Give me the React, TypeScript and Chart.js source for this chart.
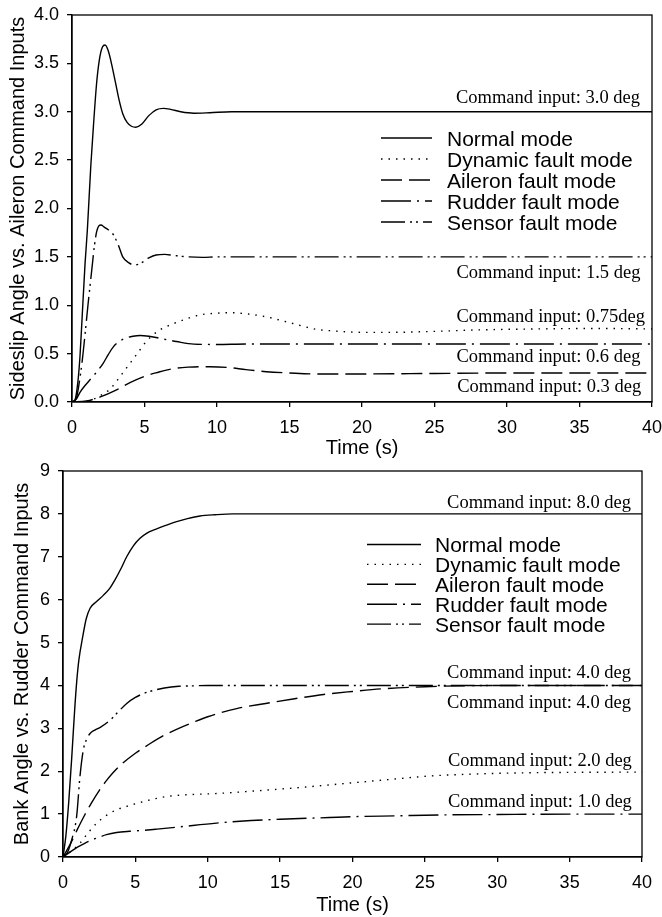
import React, { useEffect, useRef } from 'react';
import { Chart, registerables } from 'chart.js';

Chart.register(...registerables);

const SANS = '"Liberation Sans", Arial, Helvetica, sans-serif';
const SERIF = '"Liberation Serif", "Times New Roman", serif';

const seriesLabels = ['Normal mode', 'Dynamic fault mode', 'Aileron fault mode', 'Rudder fault mode', 'Sensor fault mode'];

// ---------- Top chart: sideslip angle ----------
const sNormT = [0, 0.2, 0.4, 0.55, 0.7, 0.9, 1.06, 1.3, 1.5, 1.7, 1.9, 2.1, 2.28, 2.5, 2.75, 3.0, 3.25, 3.5, 3.8, 4.1, 4.4, 4.8, 5.3, 5.8, 6.3, 6.8, 7.5, 8.4, 9.5, 11, 15, 20, 25, 30, 35, 40];
const sNormV = [0, 0.02, 0.2, 0.47, 0.88, 1.43, 1.78, 2.45, 2.9, 3.3, 3.55, 3.67, 3.69, 3.63, 3.48, 3.3, 3.12, 2.98, 2.89, 2.85, 2.84, 2.87, 2.96, 3.02, 3.035, 3.025, 3.0, 2.985, 2.99, 3.0, 3.0, 3.0, 3.0, 3.0, 3.0, 3.0];

const sDynT = [0, 1, 1.5, 2, 2.6, 3, 3.5, 4.1, 4.5, 5.15, 6, 7, 8, 8.8, 10, 10.9, 12, 13.4, 15, 16.9, 18, 20, 22, 25, 28, 32, 36, 40];
const sDynV = [0, 0.01, 0.03, 0.07, 0.13, 0.2, 0.3, 0.42, 0.5, 0.63, 0.74, 0.81, 0.865, 0.9, 0.918, 0.923, 0.912, 0.88, 0.82, 0.75, 0.735, 0.72, 0.72, 0.73, 0.745, 0.755, 0.76, 0.755];

const sAilT = [0, 1, 2, 3, 4, 5, 6, 6.5, 7, 8, 8.8, 9.5, 10.7, 12, 13.4, 15, 16.9, 20, 25, 30, 35, 40];
const sAilV = [0, 0.01, 0.055, 0.12, 0.2, 0.265, 0.31, 0.33, 0.345, 0.36, 0.365, 0.365, 0.358, 0.335, 0.313, 0.3, 0.29, 0.29, 0.295, 0.3, 0.3, 0.3];

const sRudT = [0, 0.3, 0.55, 0.9, 1.24, 1.7, 2.15, 2.5, 2.85, 3.3, 3.8, 4.2, 4.7, 5.3, 6.0, 6.5, 7.2, 8.4, 10, 12, 15, 20, 30, 40];
const sRudV = [0, 0.03, 0.1, 0.17, 0.23, 0.31, 0.4, 0.49, 0.57, 0.63, 0.665, 0.68, 0.688, 0.68, 0.66, 0.645, 0.625, 0.598, 0.595, 0.6, 0.6, 0.6, 0.6, 0.6];

const sSenT = [0, 0.3, 0.5, 0.7, 0.9, 1.1, 1.36, 1.55, 1.7, 1.85, 2.0, 2.2, 2.5, 2.85, 3.2, 3.5, 3.9, 4.34, 4.8, 5.3, 5.8, 6.4, 7.0, 8, 9, 10, 15, 20, 25, 30, 35, 40];
const sSenV = [0, 0.04, 0.2, 0.42, 0.7, 1.0, 1.36, 1.62, 1.76, 1.82, 1.83, 1.81, 1.78, 1.73, 1.62, 1.5, 1.44, 1.416, 1.44, 1.49, 1.52, 1.526, 1.515, 1.5, 1.495, 1.5, 1.5, 1.5, 1.5, 1.5, 1.5, 1.5];

const sNotesText = ['Command input: 3.0 deg', 'Command input: 1.5 deg', 'Command input: 0.75deg', 'Command input: 0.6 deg', 'Command input: 0.3 deg'];
const sNotesAt = [[39.17, 3.145], [39.2, 1.336], [39.52, 0.878], [39.2, 0.468], [39.25, 0.158]];

// ---------- Bottom chart: bank angle ----------
const bNormT = [0, 0.2, 0.4, 0.6, 0.8, 0.95, 1.1, 1.36, 1.6, 1.87, 2.3, 2.78, 3.2, 3.59, 4.0, 4.4, 4.85, 5.32, 5.8, 6.24, 7, 7.85, 8.6, 9.46, 10.5, 11.75, 14, 20, 30, 40];
const bNormV = [0, 0.5, 1.3, 2.3, 3.4, 4.1, 4.6, 5.13, 5.55, 5.8, 5.95, 6.1, 6.25, 6.46, 6.72, 7.0, 7.25, 7.43, 7.55, 7.62, 7.72, 7.82, 7.89, 7.95, 7.98, 8.0, 8.0, 8.0, 8.0, 8.0];

const bDynT = [0, 0.5, 1.17, 1.7, 2.33, 3, 3.7, 4.4, 5.1, 6, 7.16, 8.5, 10.6, 12, 14.07, 16, 18.4, 20, 22, 25.4, 28, 30, 32.3, 36, 40];
const bDynV = [0, 0.12, 0.32, 0.55, 0.79, 0.97, 1.1, 1.18, 1.25, 1.33, 1.41, 1.45, 1.48, 1.51, 1.56, 1.61, 1.68, 1.73, 1.79, 1.89, 1.93, 1.95, 1.965, 1.975, 1.98];

const bAilT = [0, 0.5, 1, 1.5, 2, 2.5, 3, 3.5, 4, 5, 6, 7, 8, 9, 10, 12, 14, 16, 18, 20, 22, 25, 28, 30, 35, 40];
const bAilV = [0, 0.3, 0.65, 0.98, 1.28, 1.55, 1.78, 1.98, 2.15, 2.42, 2.64, 2.84, 3.0, 3.14, 3.27, 3.46, 3.58, 3.69, 3.79, 3.86, 3.92, 3.97, 3.995, 4.0, 4.0, 4.0];

const bRudT = [0, 0.5, 1, 1.5, 2, 2.56, 3, 3.7, 4.6, 5.5, 6.5, 8, 10.6, 13, 15, 18.4, 20, 23, 26, 30, 35, 40];
const bRudV = [0, 0.12, 0.23, 0.32, 0.4, 0.47, 0.52, 0.57, 0.6, 0.62, 0.65, 0.7, 0.79, 0.85, 0.88, 0.92, 0.94, 0.96, 0.98, 0.99, 1.0, 1.0];

const bSenT = [0, 0.3, 0.6, 0.94, 1.17, 1.4, 1.6, 1.87, 2.2, 2.6, 3.25, 3.8, 4.4, 5.0, 5.55, 6.2, 7, 8, 9, 10, 15, 20, 30, 40];
const bSenV = [0, 0.1, 0.4, 0.94, 1.87, 2.49, 2.72, 2.88, 2.96, 3.03, 3.19, 3.38, 3.58, 3.72, 3.81, 3.88, 3.94, 3.98, 3.99, 4.0, 4.0, 4.0, 4.0, 4.0];

const bNotesText = ['Command input: 8.0 deg', 'Command input: 4.0 deg', 'Command input: 4.0 deg', 'Command input: 2.0 deg', 'Command input: 1.0 deg'];
const bNotesAt = [[39.24, 8.26], [39.24, 4.29], [39.24, 3.59], [39.3, 2.245], [39.3, 1.29]];

const xTickStep = 5;
const xMin = 0;
const xMax = 40;

// line styles per series (Normal, Dynamic, Aileron, Rudder, Sensor)
const DASHES = [[], [1.5, 6], [21, 7], [30, 6, 2, 6], [24, 5, 2, 4, 2, 5]];

const pts = (ts: number[], vs: number[]) => ts.map((t, i) => ({ x: t, y: vs[i] }));

function makeDatasets(series: [number[], number[]][]) {
  return series.map(([ts, vs], i) => ({
    label: seriesLabels[i],
    data: pts(ts, vs),
    borderColor: '#000',
    borderWidth: 1.4,
    borderDash: DASHES[i],
    pointRadius: 0,
    fill: false,
    cubicInterpolationMode: 'monotone' as const,
  }));
}

function makeDecor(cfg: any) {
  return {
    id: 'decor',
    afterDatasetsDraw(chart: any) {
      const { ctx, chartArea: a, scales } = chart;
      ctx.save();
      ctx.strokeStyle = '#000';
      ctx.lineWidth = 1.3;
      ctx.setLineDash([]);
      ctx.strokeRect(a.left, a.top, a.right - a.left, a.bottom - a.top);
      ctx.fillStyle = '#000';
      ctx.font = `18.5px ${SERIF}`;
      ctx.textAlign = 'right';
      ctx.textBaseline = 'middle';
      cfg.notesText.forEach((txt: string, i: number) => {
        const [vx, vy] = cfg.notesAt[i];
        ctx.fillText(txt, scales.x.getPixelForValue(vx), scales.y.getPixelForValue(vy));
      });
      const L = cfg.legend;
      chart.data.datasets.forEach((ds: any, i: number) => {
        const y = L.y0 + L.dy * i;
        ctx.setLineDash(ds.borderDash || []);
        ctx.lineWidth = ds.borderWidth;
        ctx.beginPath();
        ctx.moveTo(L.x0, y - 2);
        ctx.lineTo(L.x1, y - 2);
        ctx.stroke();
        ctx.setLineDash([]);
        ctx.font = `21px ${SANS}`;
        ctx.textAlign = 'left';
        ctx.textBaseline = 'middle';
        ctx.fillText(ds.label, L.tx, y);
      });
      ctx.restore();
    },
  };
}

function makeConfig(cfg: any) {
  return {
    type: 'line' as const,
    data: { datasets: makeDatasets(cfg.series) },
    options: {
      responsive: false,
      animation: false as const,
      events: [],
      layout: { padding: { top: cfg.padTop, right: cfg.padRight, left: 0, bottom: 0 }, autoPadding: false },
      plugins: { legend: { display: false }, tooltip: { enabled: false } },
      scales: {
        x: {
          type: 'linear' as const,
          min: xMin,
          max: xMax,
          afterFit: (s: any) => { s.height = cfg.xHeight; s.paddingLeft = 0; s.paddingRight = 0; },
          ticks: { stepSize: xTickStep, color: '#000', font: { family: SANS, size: 18 }, padding: 10, maxRotation: 0 },
          grid: { drawOnChartArea: false, drawTicks: true, tickLength: 5, color: '#000', lineWidth: 1.3 },
          border: { display: true, color: '#000', width: 1.3 },
          title: { display: true, text: 'Time (s)', color: '#000', font: { family: SANS, size: 20 }, padding: { top: 0, bottom: 0 } },
        },
        y: {
          type: 'linear' as const,
          min: cfg.yMin,
          max: cfg.yMax,
          afterFit: (s: any) => { s.width = cfg.yWidth; s.paddingTop = 0; s.paddingBottom = 0; },
          ticks: { stepSize: cfg.yStep, color: '#000', font: { family: SANS, size: 18 }, padding: 8, callback: cfg.yFmt },
          grid: { drawOnChartArea: false, drawTicks: true, tickLength: 5, color: '#000', lineWidth: 1.3 },
          border: { display: true, color: '#000', width: 1.3 },
          title: { display: true, text: cfg.yTitle, color: '#000', font: { family: SANS, size: 20 }, padding: { top: cfg.yTitlePad, bottom: 0 } },
        },
      },
    },
    plugins: [makeDecor(cfg)],
  };
}

const topCfg = {
  series: [[sNormT, sNormV], [sDynT, sDynV], [sAilT, sAilV], [sRudT, sRudV], [sSenT, sSenV]],
  yMin: 0, yMax: 4, yStep: 0.5,
  yFmt: (v: number) => v.toFixed(1),
  yTitle: 'Sideslip Angle vs. Aileron Command Inputs',
  padTop: 15, padRight: 10, xHeight: 58, yWidth: 72, yTitlePad: 6,
  notesText: sNotesText, notesAt: sNotesAt,
  legend: { x0: 381, x1: 432, tx: 447, y0: 140, dy: 21 },
};

const bottomCfg = {
  series: [[bNormT, bNormV], [bDynT, bDynV], [bAilT, bAilV], [bRudT, bRudV], [bSenT, bSenV]],
  yMin: 0, yMax: 9, yStep: 1,
  yFmt: (v: number) => String(v),
  yTitle: 'Bank Angle vs. Rudder Command Inputs',
  padTop: 11, padRight: 20, xHeight: 60, yWidth: 63, yTitlePad: 10,
  notesText: bNotesText, notesAt: bNotesAt,
  legend: { x0: 367, x1: 421, tx: 435, y0: 86.5, dy: 19.9 },
};

function ChartCanvas({ cfg, top, height }: { cfg: any; top: number; height: number }) {
  const ref = useRef<HTMLCanvasElement | null>(null);
  useEffect(() => {
    if (!ref.current) return;
    const chart = new Chart(ref.current, makeConfig(cfg) as any);
    return () => chart.destroy();
  }, [cfg]);
  return (
    <canvas
      ref={ref}
      width={662}
      height={height}
      style={{ position: 'absolute', left: 0, top, width: 662, height, display: 'block' }}
    />
  );
}

export default function App() {
  return (
    <div style={{ position: 'absolute', left: 0, top: 0, width: 662, height: 917, background: '#fff', overflow: 'hidden' }}>
      <ChartCanvas cfg={topCfg} top={0} height={460} />
      <ChartCanvas cfg={bottomCfg} top={460} height={457} />
    </div>
  );
}
